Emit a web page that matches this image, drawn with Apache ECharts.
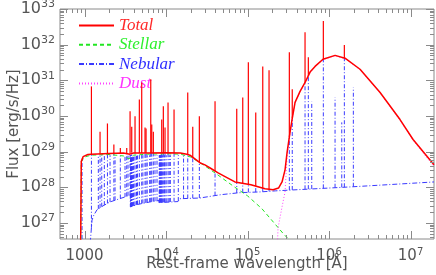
<!DOCTYPE html>
<html><head><meta charset="utf-8">
<script src="https://cdn.jsdelivr.net/npm/echarts@6/dist/echarts.min.js"></script>
<style>html,body{margin:0;padding:0;background:#fff}#c{width:436px;height:275px}</style>
</head><body><div id="c"></div>
<script>
// Wavelengths in Angstrom; fluxes given as log10(F / erg s^-1 Hz^-1)
const stellarWl   = [880, 905, 912, 1000, 1200, 2000, 3000, 3500, 3650, 4000, 6000, 10000, 15000, 20000, 26000, 30000, 43000, 70000, 100000, 150000, 270000, 400000];
const stellarLogF = [24, 24, 28.72, 28.85, 28.9, 28.92, 28.88, 28.8, 28.77, 28.9, 28.93, 28.94, 28.93, 28.85, 28.69, 28.6, 28.35, 28.0, 27.76, 27.4, 26.72, 26.3];

const nebContWl   = [900, 1100, 1180, 1236, 1300, 1423, 1686, 2054, 3140, 3640, 3650, 4500, 6360, 8200, 8210, 14000, 14800, 26100, 46000, 80500, 142000, 219000, 1800000, 19400000];
const nebContLogF = [20, 24, 26.5, 27.08, 27.22, 27.37, 27.48, 27.59, 27.73, 27.79, 27.45, 27.52, 27.59, 27.63, 27.57, 27.6, 27.68, 27.70, 27.79, 27.85, 27.87, 27.90, 28.01, 28.15];

const dustWl   = [200000, 236600, 265000, 288500, 305400, 332000, 351600, 382800, 440900, 508000, 585000, 673500, 843000, 1186000, 1570000, 2400000, 4230000, 7430000, 10740000, 19400000];
const dustLogF = [22, 26.86, 27.45, 27.87, 28.85, 29.50, 29.88, 30.37, 30.68, 30.93, 31.22, 31.38, 31.58, 31.69, 31.61, 31.30, 30.65, 29.88, 29.32, 28.58];

const totalContWl   = [880, 900, 912, 960, 1100, 1216, 2000, 3000, 3600, 3700, 4000, 6000, 10000, 15000, 18000, 20000, 26000, 30000, 36000, 43000, 53000, 70000, 110000, 164000, 206000, 240000, 265000, 288500, 305400, 332000, 351600, 382800, 440900, 508000, 585000, 673500, 843000, 1186000, 1570000, 2400000, 4230000, 7430000, 10740000, 19400000];
const totalContLogF = [24, 24, 28.72, 28.86, 28.92, 28.93, 28.95, 28.96, 28.93, 28.97, 28.96, 28.96, 28.97, 28.96, 28.93, 28.89, 28.69, 28.63, 28.52, 28.41, 28.3, 28.15, 28.07, 27.96, 27.93, 27.98, 28.15, 28.49, 28.97, 29.54, 29.90, 30.38, 30.69, 30.94, 31.23, 31.39, 31.59, 31.70, 31.62, 31.31, 30.66, 29.90, 29.34, 28.63];

// emission lines: wavelength and peak log flux
const lineWl = [932, 1215, 1477, 1550, 1626, 1750, 1910, 2056, 2290, 2367, 2750, 3139, 3294, 3418, 3620, 3665, 3680, 3697, 3712, 3734, 3750, 3771, 3794, 3835, 3889, 3970, 4026, 4165, 4340, 4471, 4705, 5030, 5200, 5525, 5684, 5876, 6300, 6493, 6677, 6985, 7320, 7751, 8250, 8330, 8392, 8467, 8545, 8665, 8750, 8855, 9015, 9265, 9546, 9721, 10049, 10580, 10938, 11290, 12540, 14140, 16400, 18460, 21270, 25630, 39930, 73700, 87340, 102300, 126100, 153700, 183600, 325800, 353700, 507600, 557200, 613500, 851300, 1185000, 1432000, 1541000, 1987000];
const lineLogPeak = [28.80, 30.83, 28.90, 29.56, 28.90, 28.90, 29.79, 28.90, 29.20, 28.90, 29.10, 28.90, 29.10, 28.90, 30.13, 28.90, 28.90, 28.90, 28.90, 28.90, 28.90, 28.90, 29.70, 28.90, 28.90, 28.90, 28.90, 29.99, 28.90, 28.90, 30.46, 30.94, 28.90, 29.68, 29.65, 28.90, 28.90, 31.03, 29.76, 29.56, 28.90, 28.90, 28.90, 28.90, 28.90, 28.90, 28.90, 28.90, 28.90, 29.90, 28.90, 30.27, 28.90, 29.68, 28.90, 30.38, 28.90, 28.90, 30.18, 28.90, 28.90, 30.66, 29.70, 29.99, 30.41, 30.20, 30.52, 31.51, 30.10, 31.39, 31.28, 31.79, 30.75, 32.35, 31.65, 30.40, 32.66, 30.52, 29.82, 31.99, 30.80];

const xMajorTicks = [1000, 1e4, 1e5, 1e6, 1e7];
const xTickLabels = ['1000', '10^4', '10^5', '10^6', '10^7'];
const yMajorTicks = [1e27, 1e28, 1e29, 1e30, 1e31, 1e32, 1e33];
const yTickLabels = ['10^27', '10^28', '10^29', '10^30', '10^31', '10^32', '10^33'];
const seriesNames = ['Total', 'Stellar', 'Nebular', 'Dust'];

const X_MIN = 500, X_MAX = 1.94e7, Y_MIN = 3.55e26, Y_MAX = 1e33;

const P = v => Math.pow(10, v);
function logInterp(xs, ys, x) {
  if (x <= xs[0]) return ys[0];
  const lx = Math.log10(x);
  for (let i = 1; i < xs.length; i++) {
    if (x <= xs[i]) {
      const a = Math.log10(xs[i - 1]), b = Math.log10(xs[i]);
      return ys[i - 1] + (lx - a) / (b - a) * (ys[i] - ys[i - 1]);
    }
  }
  return ys[ys.length - 1];
}
const pairs = (xs, ys) => xs.map((x, i) => [x, P(ys[i])]);

// nebular line segments: from the nebular continuum up to the peak (part hidden by the total curve not drawn)
const nebLineData = lineWl.map((w, i) => {
  const tot = logInterp(totalContWl, totalContLogF, w);
  return [w, P(Math.min(lineLogPeak[i], tot)), P(logInterp(nebContWl, nebContLogF, w))];
});
// total line segments: from the total continuum up to the peak
const totLineData = [];
lineWl.forEach((w, i) => {
  const base = logInterp(totalContWl, totalContLogF, w);
  if (lineLogPeak[i] > base) totLineData.push([w, P(lineLogPeak[i]), P(base)]);
});

// tick positions (log-spaced major and minor)
const xTickVals = [], yTickVals = [];
for (let d = 2; d <= 7; d++) for (let m = 1; m <= 9; m++) {
  const v = m * Math.pow(10, d);
  if (v > X_MIN && v < X_MAX) xTickVals.push([v, m === 1 ? 8 : 4]);
}
for (let d = 26; d <= 33; d++) for (let m = 1; m <= 9; m++) {
  const v = m * Math.pow(10, d);
  if (v > Y_MIN && v <= Y_MAX * 1.0001) yTickVals.push([v, m === 1 ? 8 : 4]);
}

function clampY(y, cs) { return Math.min(Math.max(y, cs.y), cs.y + cs.height); }
function spikeRenderer(color, dash, width) {
  return function (params, api) {
    const cs = params.coordSys;
    const top = api.coord([api.value(0), api.value(1)]);
    const bot = api.coord([api.value(0), api.value(2)]);
    const style = { stroke: color, lineWidth: width };
    if (dash) style.lineDash = dash;
    return {
      type: 'line',
      shape: { x1: top[0], y1: clampY(bot[1], cs), x2: top[0], y2: clampY(top[1], cs) },
      style: style
    };
  };
}
const TICK_COLOR = '#8a8a8a';
// x ticks: data [value, Ymid, len]; y ticks: data [Xmid, value, len]
function xTickRenderer(params, api) {
  const cs = params.coordSys;
  const p = api.coord([api.value(0), api.value(1)]);
  const len = api.value(2);
  const x = Math.round(p[0]) + 0.5, yb = cs.y + cs.height, yt = cs.y;
  return { type: 'group', children: [
    { type: 'line', shape: { x1: x, y1: yb, x2: x, y2: yb - len }, style: { stroke: TICK_COLOR, lineWidth: 1 } },
    { type: 'line', shape: { x1: x, y1: yt, x2: x, y2: yt + len }, style: { stroke: TICK_COLOR, lineWidth: 1 } }
  ] };
}
function yTickRenderer(params, api) {
  const cs = params.coordSys;
  const p = api.coord([api.value(0), api.value(1)]);
  const len = api.value(2);
  const y = Math.round(p[1]) + 0.5, xl = cs.x, xr = cs.x + cs.width;
  return { type: 'group', children: [
    { type: 'line', shape: { x1: xl, y1: y, x2: xl + len, y2: y }, style: { stroke: TICK_COLOR, lineWidth: 1 } },
    { type: 'line', shape: { x1: xr, y1: y, x2: xr - len, y2: y }, style: { stroke: TICK_COLOR, lineWidth: 1 } }
  ] };
}
function makeLabel(ticks, labels) {
  return v => {
    const i = ticks.findIndex(t => Math.abs(Math.log10(t) - Math.log10(v)) < 1e-6);
    if (i < 0) return '';
    const parts = labels[i].split('^');
    return parts.length > 1 ? '{b|' + parts[0] + '}{s|' + parts[1] + '}' : '{b|' + parts[0] + '}';
  };
}
const labelColor = '#555';
const font = 'DejaVu Sans';

const RED = '#ff0000', GREEN = '#22e622', BLUE = '#3a3aff', MAG = '#ff44ff';

const option = {
  animation: false,
  backgroundColor: '#fff',
  grid: { left: 60, right: 2, top: 9, bottom: 36, show: true, borderColor: TICK_COLOR, borderWidth: 1, containLabel: false, outerBoundsMode: 'none' },
  legend: {
    orient: 'vertical', left: 73, top: 12, itemWidth: 35, itemHeight: 10, itemGap: 2.3,
    itemStyle: { opacity: 0 },
    textStyle: { fontFamily: 'Liberation Serif', fontStyle: 'italic', fontSize: 17, lineHeight: 16 },
    data: [
      { name: seriesNames[0], textStyle: { color: '#ff2a2a' } },
      { name: seriesNames[1], textStyle: { color: '#2ef02e' } },
      { name: seriesNames[2], textStyle: { color: '#3030ff' } },
      { name: seriesNames[3], textStyle: { color: '#ff33ff' } }
    ]
  },
  xAxis: {
    type: 'log', logBase: 10, min: X_MIN, max: X_MAX,
    axisLine: { show: false }, axisTick: { show: false }, splitLine: { show: false },
    axisLabel: {
      margin: 8, formatter: makeLabel(xMajorTicks, xTickLabels),
      rich: {
        b: { fontSize: 15, color: labelColor, fontFamily: font, lineHeight: 18 },
        s: { fontSize: 10, color: labelColor, fontFamily: font, verticalAlign: 'top', lineHeight: 8 }
      }
    },
    name: 'Rest-frame wavelength [Å]', nameLocation: 'middle', nameGap: 18, nameMoveOverlap: false,
    nameTextStyle: { fontSize: 15, color: labelColor, fontFamily: font }
  },
  yAxis: {
    type: 'log', logBase: 10, min: Y_MIN, max: Y_MAX,
    axisLine: { show: false }, axisTick: { show: false }, splitLine: { show: false },
    axisLabel: {
      margin: 5, formatter: makeLabel(yMajorTicks, yTickLabels),
      rich: {
        b: { fontSize: 16, color: labelColor, fontFamily: font, lineHeight: 20 },
        s: { fontSize: 11, color: labelColor, fontFamily: font, verticalAlign: 'top', lineHeight: 8 }
      }
    },
    name: 'Flux [erg/s/Hz]', nameLocation: 'middle', nameGap: 38, nameMoveOverlap: false,
    nameTextStyle: { fontSize: 15, color: labelColor, fontFamily: font }
  },
  series: [
    { name: seriesNames[2], type: 'line', data: pairs(nebContWl, nebContLogF), symbol: 'none', z: 2,
      lineStyle: { color: BLUE, width: 1, type: [5, 2, 1, 2] }, itemStyle: { color: BLUE, opacity: 0 } },
    { name: 'nebLines', type: 'custom', data: nebLineData, z: 2, renderItem: spikeRenderer(BLUE, [4, 2, 1, 2], 1) },
    { name: seriesNames[1], type: 'line', data: pairs(stellarWl, stellarLogF), symbol: 'none', z: 3,
      lineStyle: { color: GREEN, width: 1, type: [4, 3] }, itemStyle: { color: GREEN, opacity: 0 } },
    { name: seriesNames[3], type: 'line', data: pairs(dustWl, dustLogF), symbol: 'none', z: 3,
      lineStyle: { color: MAG, width: 1, type: [1, 2] }, itemStyle: { color: MAG, opacity: 0 } },
    { name: 'totLines', type: 'custom', data: totLineData, z: 4, renderItem: spikeRenderer(RED, null, 1.2) },
    { name: seriesNames[0], type: 'line', data: pairs(totalContWl, totalContLogF), symbol: 'none', z: 5,
      lineStyle: { color: RED, width: 1.5 }, itemStyle: { color: RED, opacity: 0 } },
    { name: 'xTicks', type: 'custom', data: xTickVals.map(t => [t[0], 1e30, t[1]]), z: 6, renderItem: xTickRenderer },
    { name: 'yTicks', type: 'custom', data: yTickVals.map(t => [1e4, t[0], t[1]]), z: 6, renderItem: yTickRenderer }
  ]
};
const chart = echarts.init(document.getElementById('c'));
chart.setOption(option);
</script>
</body></html>
